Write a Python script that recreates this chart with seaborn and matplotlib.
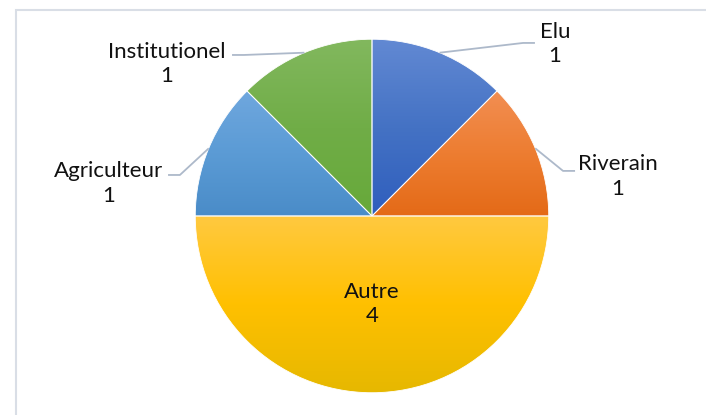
import numpy as np
import pandas as pd
import matplotlib
matplotlib.use("Agg")
import matplotlib.pyplot as plt
from matplotlib.patches import Rectangle
from matplotlib.colors import LinearSegmentedColormap
import seaborn as sns

# ---- data ----
categories = ["Elu", "Riverain", "Autre", "Agriculteur", "Institutionel"]
values = [1, 1, 4, 1, 1]

# ---- styles ----
top_colors = ["#6289D3", "#F28E52", "#FFC940", "#6FA7DE", "#82B85E"]
mid_colors = ["#4472C4", "#ED7D31", "#FFC000", "#5B9BD5", "#70AD47"]
bottom_colors = ["#2F5EBD", "#E46A17", "#E6B800", "#4A8CC8", "#67A93A"]

sns.set_theme(style="white")
plt.rcParams['font.family'] = ['Lato', 'DejaVu Sans']

df = pd.DataFrame({"cat": categories, "val": values})

fig = plt.figure(figsize=(7.06, 4.15), dpi=100)
ax = fig.add_axes([0, 0, 1, 1])

wedges, _ = ax.pie(df["val"], startangle=90, counterclock=False,
                   colors=mid_colors, radius=1.0, center=(0, 0),
                   wedgeprops=dict(edgecolor="white", linewidth=0.6))
ax.set_xlim(-2.105, 1.890)
ax.set_ylim(-1.126, 1.222)
ax.set_aspect("equal")
ax.axis("off")

# vertical gradient fill per wedge
for w, ct, cm, cb in zip(wedges, top_colors, mid_colors, bottom_colors):
    path = w.get_path()
    verts = w.get_transform().transform(path.vertices)
    verts = ax.transData.inverted().transform(verts)
    x0, x1 = verts[:, 0].min(), verts[:, 0].max()
    y0, y1 = verts[:, 1].min(), verts[:, 1].max()
    cmap = LinearSegmentedColormap.from_list("g", [cb, cm, ct])
    grad = np.linspace(0, 1, 256).reshape(-1, 1)
    im = ax.imshow(grad, extent=(x0, x1, y0, y1), origin="lower", cmap=cmap,
                   aspect="auto", zorder=w.get_zorder() + 0.1)
    im.set_clip_path(w)
    w.set_facecolor("none")
    w.set_zorder(w.get_zorder() + 0.2)

ax.set_xlim(-2.105, 1.890)
ax.set_ylim(-1.126, 1.222)

# ---- labels ----
label_pos = {
    "Elu": (1.036, 0.973),
    "Riverain": (1.392, 0.224),
    "Autre": (0.0, -0.498),
    "Agriculteur": (-1.488, 0.184),
    "Institutionel": (-1.160, 0.860),
}
leader = {
    "Elu": [(0.855, 0.979), (0.922, 0.979)],
    "Riverain": [(1.081, 0.255), (1.149, 0.255)],
    "Agriculteur": [(-1.087, 0.232), (-1.154, 0.232)],
    "Institutionel": [(-0.724, 0.911), (-0.792, 0.911)],
}

cum = 0
total = sum(values)
for cat, v in zip(categories, values):
    mid = 90 - 360 * (cum + v / 2) / total
    cum += v
    tx, ty = label_pos[cat]
    ax.text(tx, ty, f"{cat}\n{v}", ha="center", va="center", fontsize=16,
            color="#111111", linespacing=1.27, zorder=10)
    if cat in leader:
        sx, sy = np.cos(np.radians(mid)), np.sin(np.radians(mid))
        pts = [(sx, sy)] + leader[cat]
        ax.plot([p[0] for p in pts], [p[1] for p in pts], color="#ADB9CA",
                lw=1.3, zorder=9, solid_capstyle="butt")

# chart frame (left and top edges visible)
top = 1 - 10 / 415
fig.add_artist(Rectangle((16 / 706, -0.2), 1.5, top + 0.2,
                         transform=fig.transFigure, fill=False,
                         edgecolor="#D9DEE6", lw=1.5))

fig.savefig("out.png", dpi=100, facecolor="white")
